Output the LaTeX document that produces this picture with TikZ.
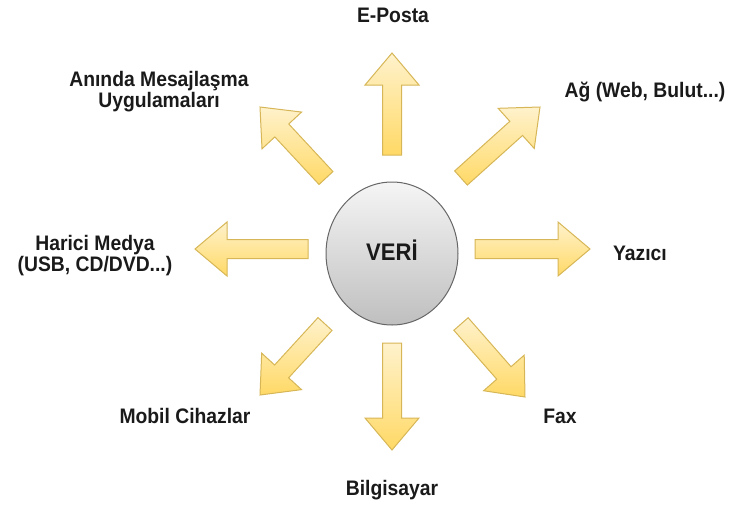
\documentclass[tikz,border=0pt]{standalone}
\usepackage{fontspec}
\setmainfont{Liberation Sans}[FakeStretch=0.92]
\usetikzlibrary{calc,shapes.geometric}
\definecolor{arrfillA}{HTML}{FFF2CC}
\definecolor{arrfillB}{HTML}{FFD966}
\definecolor{arrline}{HTML}{D6B656}
\definecolor{ellA}{HTML}{F5F5F5}
\definecolor{ellB}{HTML}{BFBFBF}
\definecolor{ellline}{HTML}{666666}
\definecolor{txt}{HTML}{1A1A1A}
% #1 name, #2 tail centre, #3 tip
\newcommand\fatarrow[3]{%
  \coordinate (#1s) at #2;
  \coordinate (#1e) at #3;
  \coordinate (#1h) at ($(#1e)!32pt!(#1s)$);
  \draw[fatarr] ($(#1s)!9.5pt!90:(#1e)$) -- ($(#1h)!9.5pt!-90:(#1s)$)
     -- ($(#1h)!27pt!-90:(#1s)$) -- (#1e) -- ($(#1h)!27pt!90:(#1s)$)
     -- ($(#1h)!9.5pt!90:(#1s)$) -- ($(#1s)!9.5pt!-90:(#1e)$) -- cycle;}
\tikzset{
  fatarr/.style={draw=arrline, line width=1pt, line join=miter, top color=arrfillA, bottom color=arrfillB},
  lbl/.style={font=\fontsize{21}{21}\selectfont\bfseries, text=txt, inner sep=0pt, align=center},
}
\begin{document}
\begin{tikzpicture}[x=1pt,y=-1pt]
\useasboundingbox (0,0) rectangle (729,507);
\fatarrow{n}{(392,155)}{(392,53)}
\fatarrow{s}{(392,343)}{(392,450)}
\fatarrow{e}{(475,249)}{(590,249)}
\fatarrow{w}{(308,249)}{(195,249)}
\fatarrow{ne}{(461,178)}{(540,107)}
\fatarrow{nw}{(326,178)}{(260,107)}
\fatarrow{sw}{(325,324)}{(260,395)}
\fatarrow{se}{(461,324)}{(525,397)}
\node[ellipse, draw=ellline, line width=1pt, top color=ellA, bottom color=ellB,
      minimum width=132pt, minimum height=143pt, inner sep=0pt, text=txt,
      font=\fontsize{24}{30}\selectfont\bfseries, text height=17pt, text depth=3pt] (veri) at (392,253.5) {VERİ};
\node[lbl, anchor=base] (eposta) at (393,22) {E-Posta};
\node[lbl, anchor=base] (bilg) at (392,495) {Bilgisayar};
\node[lbl, anchor=base] (yazici) at (640,260) {Yazıcı};
\node[lbl, anchor=base] (fax) at (560,423) {Fax};
\node[lbl, anchor=base] (mobil) at (185,423) {Mobil Cihazlar};
\node[lbl, anchor=base] (ag) at (645,97) {Ağ (Web, Bulut...)};
\node[lbl] (anlik) at (159,91.3) {Anında Mesajlaşma\\Uygulamaları};
\node[lbl] (harici) at (95,255.3) {Harici Medya\\(USB, CD/DVD...)};
\end{tikzpicture}
\end{document}
